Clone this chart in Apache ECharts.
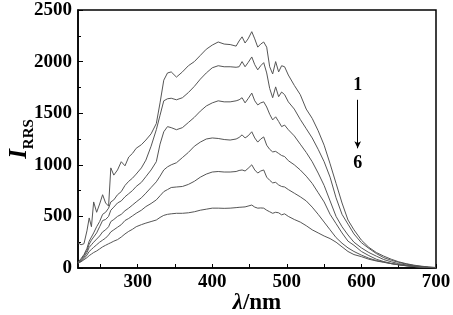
<!DOCTYPE html>
<html>
<head>
<meta charset="utf-8">
<script src="https://cdn.jsdelivr.net/npm/echarts@6/dist/echarts.min.js"></script>
<style>
  html, body { margin: 0; padding: 0; background: #fff; }
  #chart { width: 453px; height: 315px; }
</style>
</head>
<body>
<div id="chart"></div>
<script>
// wavelength (nm)
const wavelengths = [
  220, 224, 228, 232, 235, 238, 241, 245, 249, 253,
  257, 261, 264, 268, 273, 278, 283, 288, 293, 298,
  305, 311, 318, 325, 330, 335, 340, 345, 352, 360,
  368, 376, 384, 392, 400, 408, 416, 424, 432, 436,
  440, 444, 448, 453, 457, 461, 465, 469, 473, 477,
  481, 485, 489, 493, 497, 502, 510, 518, 526, 534,
  542, 550, 558, 566, 574, 582, 590, 600, 610, 620,
  630, 640, 650, 660, 670, 680, 690, 700
];

// I_RRS, curves 1 (top) .. 6 (bottom)
const curve1 = [
  245, 225, 235, 360, 485, 400, 640, 540, 620, 710,
  630, 600, 970, 900, 950, 1030, 990, 1075, 1110, 1160,
  1195, 1240, 1300, 1400, 1600, 1820, 1890, 1900, 1850, 1900,
  1960, 2000, 2060, 2120, 2160, 2190, 2170, 2165, 2150, 2200,
  2240, 2180, 2220, 2290, 2220, 2140, 2170, 2190, 2140, 1950,
  1880, 2000, 1900, 1960, 1950, 1870, 1770, 1680, 1540, 1450,
  1330, 1190, 1010, 820, 630, 465, 370, 270, 200, 150,
  115, 85, 60, 42, 28, 18, 10, 5
];
const curve2 = [
  55, 90, 130, 190, 260, 300, 340, 400, 450, 520,
  540, 580, 640, 660, 710, 740, 800, 840, 870, 910,
  970, 1045, 1180, 1340, 1480, 1620, 1640, 1645, 1630, 1650,
  1700, 1760, 1830, 1890, 1940, 1960, 1950, 1950, 1945, 1950,
  2000, 1950, 1990, 2045, 1970, 1920, 1960, 1990, 1890, 1740,
  1650, 1755, 1660, 1705, 1680, 1610, 1540, 1440, 1350, 1260,
  1150, 1030, 880, 680, 520, 425, 330, 245, 190, 140,
  100, 75, 55, 38, 25, 15, 8, 3
];
const curve3 = [
  50, 80, 120, 170, 230, 270, 300, 340, 400, 460,
  470, 500, 560, 590, 630, 650, 690, 720, 750, 790,
  830, 885, 950, 1030, 1200, 1320, 1370, 1360, 1340, 1360,
  1410, 1460, 1520, 1570, 1600, 1620, 1610, 1610, 1620, 1630,
  1650, 1600, 1640, 1695, 1620, 1580, 1600, 1610, 1560, 1490,
  1435, 1465, 1420, 1370, 1385, 1340, 1280, 1200, 1120, 1030,
  920, 800, 650, 500, 400, 320, 250, 195, 150, 115,
  82, 60, 42, 30, 20, 12, 6, 2
];
const curve4 = [
  50, 70, 105, 150, 200, 225, 250, 280, 310, 350,
  370, 400, 450, 470, 500, 520, 555, 580, 610, 640,
  680, 725, 780, 835, 890, 950, 980, 1000, 1020, 1070,
  1120, 1180, 1220, 1250, 1260, 1255, 1245, 1240, 1250, 1265,
  1290, 1260, 1280, 1320, 1260, 1220, 1250, 1270, 1190, 1150,
  1125, 1130, 1110, 1090, 1080, 1040, 1000, 950, 890, 820,
  730, 640, 520, 430, 340, 260, 220, 160, 120, 85,
  62, 45, 32, 23, 15, 9, 5, 2
];
const curve5 = [
  50, 65, 90, 125, 160, 180, 200, 225, 250, 270,
  290, 320, 350, 370, 395, 420, 460, 480, 505, 530,
  560, 595, 625, 660, 700, 740, 760, 780, 785, 790,
  810, 840, 880, 910, 930, 935, 930, 930, 935, 945,
  950, 940, 965, 1000, 950, 920, 940, 950, 880, 850,
  825, 830, 805, 790, 785, 760, 725, 690, 650, 590,
  520, 445, 370, 295, 240, 195, 160, 125, 95, 72,
  58, 42, 30, 21, 14, 8, 4, 2
];
const curve6 = [
  45, 60, 80, 100, 120, 135, 150, 165, 185, 205,
  220, 235, 245, 260, 275, 300, 330, 355, 375, 400,
  420, 435, 450, 465, 490, 510, 520, 525, 530, 530,
  535, 545, 560, 570, 580, 580, 578, 580, 585, 588,
  590, 592, 600, 610, 590, 580, 582, 580, 560, 545,
  530, 540, 535, 515, 525, 500, 470, 445, 410, 370,
  340, 310, 285, 250, 205, 160, 130, 110, 85, 68,
  55, 42, 32, 23, 15, 9, 5, 2
];

const xTickValues = [250, 300, 350, 400, 450, 500, 550, 600, 650, 700];
const xLabelValues = [300, 400, 500, 600, 700];

const curves = [curve1, curve2, curve3, curve4, curve5, curve6];
const serif = "'Liberation Serif', 'DejaVu Serif', serif";

let chart = echarts.init(document.getElementById("chart"), null, { renderer: "canvas" });

let series = curves.map((c, idx) => {
  let s = {
    name: String(idx + 1),
    type: "line",
    showSymbol: false,
    symbol: "none",
    smooth: false,
    animation: false,
    lineStyle: { color: "#555", width: 1 },
    data: wavelengths.map((w, i) => [w, c[i]]),
  };
  return s;
});

// "1 -> 6" annotation
series[0].markLine = {
  silent: true,
  symbol: ["none", "arrow"],
  symbolSize: [5, 7],
  label: { show: false },
  lineStyle: { color: "#000", width: 1, type: "solid" },
  data: [[{ coord: [595, 1630] }, { coord: [595, 1160] }]],
};
series[0].markPoint = {
  silent: true,
  symbol: "circle",
  symbolSize: 1,
  itemStyle: { color: "rgba(0,0,0,0)" },
  label: {
    show: true,
    position: "inside",
    formatter: (p) => p.name,
    color: "#000",
    fontFamily: serif,
    fontWeight: "bold",
    fontSize: 18,
  },
  data: [
    { name: "1", coord: [595, 1773] },
    { name: "6", coord: [595, 1017] },
  ],
};

let options = {
  backgroundColor: "#fff",
  animation: false,
  grid: {
    left: 78,
    right: 17,
    top: 10,
    bottom: 47,
    containLabel: false,
    outerBoundsMode: "none",
    show: true,
    borderColor: "#000",
    borderWidth: 1.5,
    backgroundColor: "transparent",
  },
  xAxis: {
    type: "value",
    min: 220,
    max: 700,
    name: "{l|λ}{n|/nm}",
    nameLocation: "middle",
    nameGap: 24,
    nameMoveOverlap: false,
    nameTextStyle: {
      rich: {
        l: { fontFamily: serif, fontStyle: "italic", fontWeight: "bold", fontSize: 23, color: "#000" },
        n: { fontFamily: serif, fontWeight: "bold", fontSize: 23, color: "#000" },
      },
    },
    axisLine: { lineStyle: { color: "#000", width: 1.5 } },
    axisTick: { inside: true, length: 4, customValues: xTickValues, lineStyle: { color: "#000", width: 1 } },
    axisLabel: {
      customValues: xLabelValues,
      margin: 5,
      color: "#000",
      fontFamily: serif,
      fontWeight: "bold",
      fontSize: 19,
      formatter: (v) => String(v),
    },
    splitLine: { show: false },
  },
  yAxis: {
    type: "value",
    min: 0,
    max: 2500,
    interval: 500,
    name: "{i|I}{s|RRS}",
    nameLocation: "middle",
    nameRotate: 90,
    nameGap: 41,
    nameMoveOverlap: false,
    nameTextStyle: {
      rich: {
        i: { fontFamily: serif, fontStyle: "italic", fontWeight: "bold", fontSize: 25, color: "#000", verticalAlign: "bottom", padding: [0, 0, 5, 0] },
        s: { fontFamily: serif, fontWeight: "bold", fontSize: 15, color: "#000", verticalAlign: "bottom" },
      },
    },
    axisLine: { show: true, lineStyle: { color: "#000", width: 1.5 } },
    axisTick: { show: true, inside: true, length: 5, lineStyle: { color: "#000", width: 1 } },
    minorTick: { show: true, splitNumber: 2, length: 3, lineStyle: { color: "#000", width: 1 } },
    axisLabel: {
      margin: 6,
      color: "#000",
      fontFamily: serif,
      fontWeight: "bold",
      fontSize: 19,
      formatter: (v) => String(v),
    },
    splitLine: { show: false },
  },
  series: series,
};

chart.setOption(options);
</script>
</body>
</html>
